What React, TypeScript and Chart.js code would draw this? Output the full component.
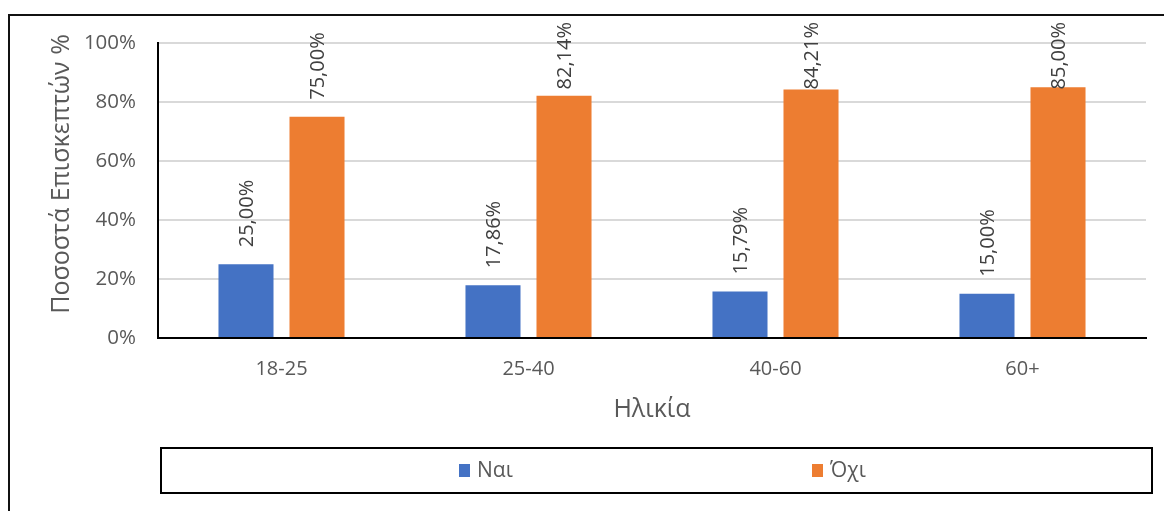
import React, { useEffect, useRef } from "react";
import { Chart, registerables } from "chart.js";

Chart.register(...registerables);

const categories = ["18-25", "25-40", "40-60", "60+"];
const seriesNames = ["Ναι", "Όχι"];
const yesValues = [25.0, 17.86, 15.79, 15.0];
const noValues = [75.0, 82.14, 84.21, 85.0];
const yTicks = [0, 20, 40, 60, 80, 100];
const xTitle = "Ηλικία";
const yTitle = "Ποσοστά Επισκεπτών %";

const COLORS = ["#4472C4", "#ED7D31"];
const FONT = "'Open Sans', 'DejaVu Sans', sans-serif";
const TEXT = "#595959";

const fmt = (v: number) => v.toFixed(2).replace(".", ",") + "%";

const dataLabelPlugin = {
  id: "dataLabels",
  afterDatasetsDraw(chart: any) {
    const ctx = chart.ctx;
    ctx.save();
    ctx.font = `20px ${FONT}`;
    ctx.fillStyle = "#404040";
    chart.data.datasets.forEach((ds: any, di: number) => {
      const meta = chart.getDatasetMeta(di);
      meta.data.forEach((bar: any, i: number) => {
        const label = fmt(ds.data[i]);
        const w = ctx.measureText(label).width;
        const anchorY = Math.max(bar.y - 17, 22 + w);
        ctx.save();
        ctx.translate(bar.x, anchorY);
        ctx.rotate(-Math.PI / 2);
        ctx.textAlign = "left";
        ctx.textBaseline = "middle";
        ctx.fillText(label, 0, 1);
        ctx.restore();
      });
    });
    ctx.restore();
  },
};

const yTitlePlugin = {
  id: "yTitle",
  afterDraw(chart: any) {
    const ctx = chart.ctx;
    ctx.save();
    ctx.font = `25px ${FONT}`;
    ctx.fillStyle = TEXT;
    ctx.translate(62, 174);
    ctx.rotate(-Math.PI / 2);
    ctx.textAlign = "center";
    ctx.textBaseline = "middle";
    ctx.fillText(yTitle, 0, 0);
    ctx.restore();
  },
};

const legendBoxPlugin = {
  id: "legendBox",
  afterDraw(chart: any) {
    const ctx = chart.ctx;
    ctx.save();
    ctx.strokeStyle = "#000";
    ctx.lineWidth = 2;
    ctx.strokeRect(161, 448, 991, 45);
    const itemX = [459, 812];
    ctx.font = `21px ${FONT}`;
    ctx.textBaseline = "middle";
    ctx.textAlign = "left";
    chart.data.datasets.forEach((ds: any, i: number) => {
      ctx.fillStyle = ds.backgroundColor;
      ctx.fillRect(itemX[i], 464, 11, 13);
      ctx.fillStyle = TEXT;
      ctx.fillText(ds.label, itemX[i] + 18, 471);
    });
    ctx.restore();
  },
};

export default function App() {
  const ref = useRef<HTMLCanvasElement | null>(null);

  useEffect(() => {
    if (!ref.current) return;
    const chart = new Chart(ref.current, {
      type: "bar",
      data: {
        labels: categories,
        datasets: [
          {
            label: seriesNames[0],
            data: yesValues,
            backgroundColor: COLORS[0],
            categoryPercentage: 0.575,
            barPercentage: 0.775,
          },
          {
            label: seriesNames[1],
            data: noValues,
            backgroundColor: COLORS[1],
            categoryPercentage: 0.575,
            barPercentage: 0.775,
          },
        ],
      },
      options: {
        responsive: false,
        animation: false,
        layout: { padding: { top: 43, right: 18, bottom: 0, left: 0 } },
        plugins: {
          legend: { display: false },
          tooltip: { enabled: false },
        },
        scales: {
          x: {
            grid: { display: false, drawTicks: false },
            border: { display: true, color: "#000", width: 2 },
            ticks: {
              color: TEXT,
              font: { family: FONT, size: 20 },
              padding: 19,
            },
            title: {
              display: true,
              text: xTitle,
              color: TEXT,
              font: { family: FONT, size: 25 },
              padding: { top: 0, bottom: 86 },
            },
            afterFit(scale: any) {
              scale.height = 173;
            },
          },
          y: {
            min: 0,
            max: 100,
            afterBuildTicks(scale: any) {
              scale.ticks = yTicks.map((v) => ({ value: v }));
            },
            grid: {
              color: (c: any) => (c.tick && c.tick.value === 0 ? "rgba(0,0,0,0)" : "#D9D9D9"),
              lineWidth: 2,
              drawTicks: false,
            },
            border: { display: true, color: "#000", width: 2 },
            ticks: {
              color: TEXT,
              font: { family: FONT, size: 20.5 },
              padding: 22,
              callback: (v: any) => v + "%",
            },
            title: { display: false },
            afterFit(scale: any) {
              scale.width = 158;
            },
          },
        },
      },
      plugins: [dataLabelPlugin, yTitlePlugin, legendBoxPlugin],
    });
    return () => chart.destroy();
  }, []);

  return (
    <div
      style={{
        position: "fixed",
        left: 0,
        top: 0,
        width: 1164,
        height: 511,
        background: "#fff",
        overflow: "hidden",
      }}
    >
      <div
        style={{
          position: "absolute",
          left: 8,
          top: 14,
          width: 1300,
          height: 700,
          borderTop: "2px solid #111",
          borderLeft: "2px solid #111",
        }}
      />
      <canvas
        ref={ref}
        width={1164}
        height={511}
        style={{ position: "absolute", left: 0, top: 0, width: 1164, height: 511 }}
      />
    </div>
  );
}
